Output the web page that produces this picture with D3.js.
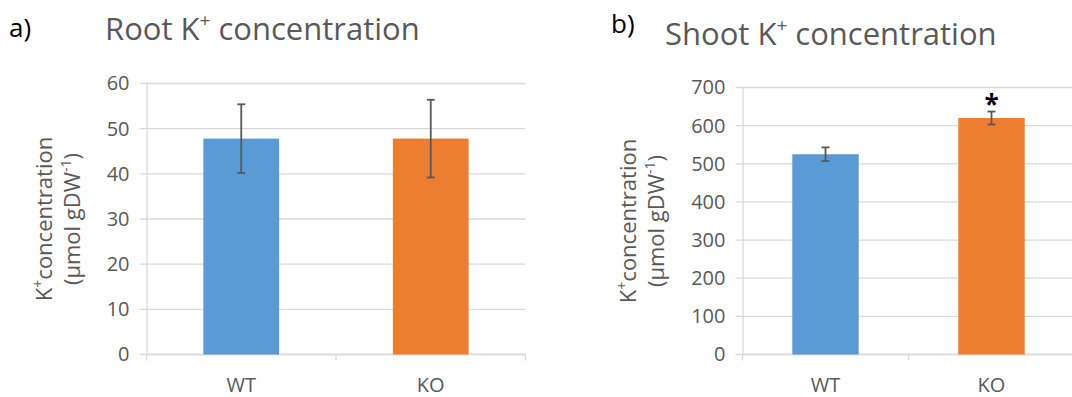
<!DOCTYPE html>
<html>
<head>
<meta charset="utf-8">
<script src="https://cdn.jsdelivr.net/npm/d3@7"></script>
<style>
  body { margin: 0; background: #fff; }
  text { font-family: "Open Sans", sans-serif; }
</style>
</head>
<body>
<div id="chart"></div>
<script>
// data
const categories = ["WT", "KO"];
const barColors = ["#5B9BD5", "#ED7D31"];

const rootMeans = [47.8, 47.8];
const rootErrors = [7.6, 8.6];
const rootTicks = [0, 10, 20, 30, 40, 50, 60];

const shootMeans = [525, 620];
const shootErrors = [18, 17];
const shootTicks = [0, 100, 200, 300, 400, 500, 600, 700];
const shootSignificant = [false, true];

const width = 1072;
const height = 397;

const svg = d3
  .select("#chart")
  .append("svg")
  .attr("width", width)
  .attr("height", height);

// draw one panel
function drawPanel(opts) {
  const g = svg.append("g");

  const x = d3
    .scaleBand()
    .domain(categories)
    .range([opts.left, opts.right])
    .padding(0);

  const y = d3
    .scaleLinear()
    .domain([0, d3.max(opts.ticks)])
    .range([opts.bottom, opts.top]);

  // gridlines
  g.append("g")
    .selectAll("line")
    .data(opts.ticks)
    .join("line")
    .attr("x1", opts.left - 7)
    .attr("x2", opts.right)
    .attr("y1", (d) => y(d))
    .attr("y2", (d) => y(d))
    .attr("stroke", "#d9d9d9")
    .attr("stroke-width", 1.3);

  // y axis
  g.append("g")
    .attr("transform", `translate(${opts.left},0)`)
    .call(d3.axisLeft(y).tickValues(opts.ticks).tickSize(0).tickPadding(17))
    .call((a) => a.select(".domain").attr("stroke", "#d9d9d9").attr("stroke-width", 1.3))
    .call((a) =>
      a.selectAll(".tick text")
        .attr("fill", "#595959")
        .attr("font-size", 20)
        .style("font-family", "'Open Sans', sans-serif")
    );

  // x axis line + category boundary ticks
  g.append("line")
    .attr("x1", opts.left)
    .attr("x2", opts.right)
    .attr("y1", opts.bottom)
    .attr("y2", opts.bottom)
    .attr("stroke", "#d9d9d9")
    .attr("stroke-width", 1.3);

  const bounds = categories.map((c) => x(c)).concat([x(categories[1]) + x.bandwidth()]);
  g.append("g")
    .selectAll("line")
    .data(bounds)
    .join("line")
    .attr("x1", (d) => d)
    .attr("x2", (d) => d)
    .attr("y1", opts.bottom)
    .attr("y2", opts.bottom + 6)
    .attr("stroke", "#d9d9d9")
    .attr("stroke-width", 1.3);

  g.append("g")
    .selectAll("text")
    .data(categories)
    .join("text")
    .attr("x", (d) => x(d) + x.bandwidth() / 2)
    .attr("y", opts.bottom + 37)
    .attr("text-anchor", "middle")
    .attr("fill", "#595959")
    .attr("font-size", 20)
    .text((d) => d);

  // bars
  const barW = x.bandwidth() * 0.4;
  g.append("g")
    .selectAll("rect")
    .data(categories)
    .join("rect")
    .attr("x", (d) => x(d) + (x.bandwidth() - barW) / 2)
    .attr("y", (d, i) => y(opts.means[i]))
    .attr("width", barW)
    .attr("height", (d, i) => y(0) - y(opts.means[i]))
    .attr("fill", (d, i) => barColors[i]);

  // error bars
  const err = g.append("g")
    .attr("stroke", "#595959")
    .attr("stroke-width", 1.8)
    .selectAll("g")
    .data(categories)
    .join("g");
  const cx = (d) => x(d) + x.bandwidth() / 2;
  err.append("line")
    .attr("x1", cx).attr("x2", cx)
    .attr("y1", (d, i) => y(opts.means[i] + opts.errors[i]))
    .attr("y2", (d, i) => y(opts.means[i] - opts.errors[i]));
  err.append("line")
    .attr("x1", (d) => cx(d) - 4).attr("x2", (d) => cx(d) + 4)
    .attr("y1", (d, i) => y(opts.means[i] + opts.errors[i]))
    .attr("y2", (d, i) => y(opts.means[i] + opts.errors[i]));
  err.append("line")
    .attr("x1", (d) => cx(d) - 4).attr("x2", (d) => cx(d) + 4)
    .attr("y1", (d, i) => y(opts.means[i] - opts.errors[i]))
    .attr("y2", (d, i) => y(opts.means[i] - opts.errors[i]));

  // significance marks
  if (opts.significant) {
    g.append("g")
      .selectAll("text")
      .data(categories.filter((d, i) => opts.significant[i]))
      .join("text")
      .attr("x", cx)
      .attr("y", (d) => {
        const i = categories.indexOf(d);
        return y(opts.means[i] + opts.errors[i]) + 2;
      })
      .attr("text-anchor", "middle")
      .attr("font-size", 26)
      .attr("font-weight", "bold")
      .attr("fill", "#000")
      .text("*");
  }

  // y axis title, two lines
  const midY = (opts.top + opts.bottom) / 2;
  const yt = g.append("text")
    .attr("transform", `translate(${opts.labelX},${midY}) rotate(-90)`)
    .attr("text-anchor", "middle")
    .attr("fill", "#595959")
    .attr("font-size", 22);
  const l1 = yt.append("tspan").attr("x", 0).attr("y", 0);
  l1.append("tspan").text("K");
  l1.append("tspan").attr("font-size", 14).attr("dy", -9).text("+");
  l1.append("tspan").attr("dy", 9).text("concentration");
  const l2 = yt.append("tspan").attr("x", 0).attr("y", 28);
  l2.append("tspan").text("(µmol gDW");
  l2.append("tspan").attr("font-size", 14).attr("dy", -9).text("-1");
  l2.append("tspan").attr("dy", 9).text(")");

  // chart title
  const t = g.append("text")
    .attr("x", opts.titleX)
    .attr("y", opts.titleY)
    .attr("fill", "#595959")
    .attr("font-size", 31);
  t.append("tspan").text(opts.title + " K");
  t.append("tspan").attr("font-size", 19).attr("dy", -13).text("+");
  t.append("tspan").attr("dy", 13).text(" concentration");

  // panel letter
  g.append("text")
    .attr("x", opts.letterX)
    .attr("y", opts.letterY)
    .attr("fill", "#000")
    .attr("font-size", 26)
    .text(opts.letter);
}

drawPanel({
  letter: "a)", letterX: 9, letterY: 37,
  title: "Root", titleX: 105, titleY: 40,
  left: 146.5, right: 525.5, top: 83.5, bottom: 354.5,
  ticks: rootTicks, means: rootMeans, errors: rootErrors,
  labelX: 52,
});

drawPanel({
  letter: "b)", letterX: 611, letterY: 33,
  title: "Shoot", titleX: 665, titleY: 45,
  left: 742.5, right: 1074.5, top: 87.5, bottom: 354.5,
  ticks: shootTicks, means: shootMeans, errors: shootErrors,
  significant: shootSignificant,
  labelX: 636,
});
</script>
</body>
</html>
